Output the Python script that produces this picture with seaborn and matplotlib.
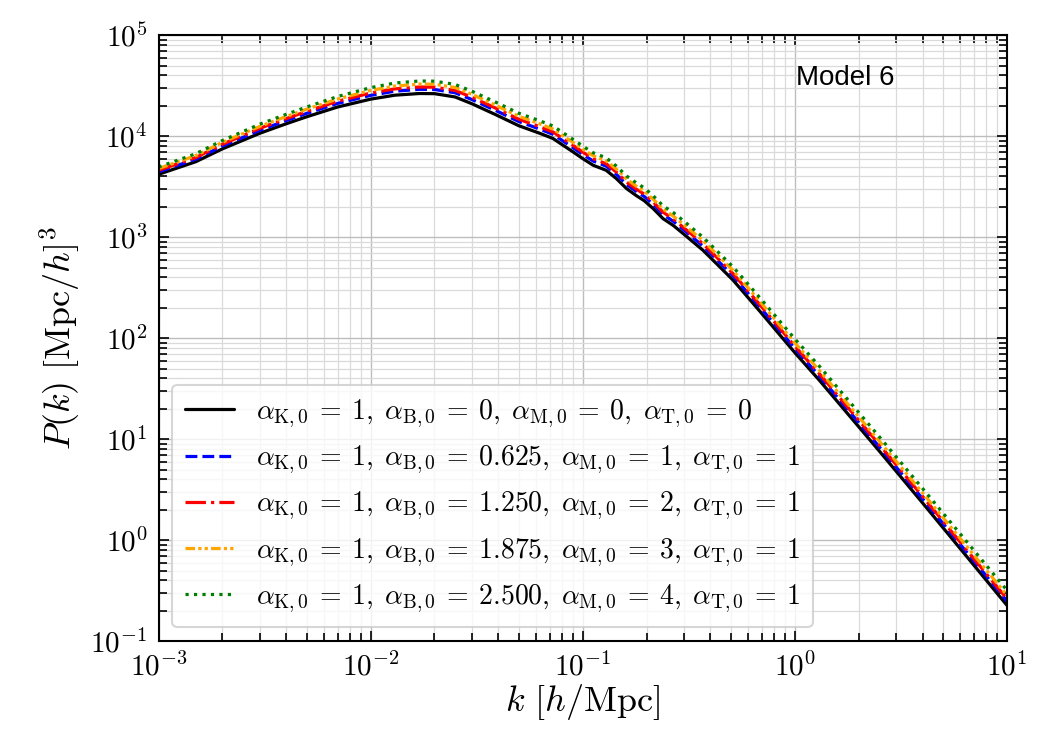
import numpy as np
import pandas as pd
import seaborn as sns
import matplotlib.pyplot as plt
from matplotlib.ticker import LogLocator, NullFormatter, FuncFormatter

sns.set_style("ticks")
plt.rcParams["mathtext.fontset"] = "cm"
plt.rcParams["font.family"] = ["DejaVu Serif"]
for key in ["text.color", "axes.labelcolor", "xtick.color", "ytick.color", "axes.edgecolor"]:
    plt.rcParams[key] = "black"

# wavenumbers k [h/Mpc]
k = [0.001, 0.0015, 0.002, 0.003, 0.004, 0.005, 0.007, 0.01, 0.013, 0.017,
     0.02, 0.025, 0.03, 0.039, 0.05, 0.0627, 0.0724, 0.0807, 0.09, 0.1,
     0.112, 0.129, 0.144, 0.161, 0.179, 0.195, 0.215, 0.239, 0.267, 0.297,
     0.369, 0.443, 0.512, 0.684, 1.0, 1.31, 2.52, 4.03, 10.0]

# P(k) [Mpc/h]^3 for each parameter set
p_ref = [4200, 5600, 7500, 10700, 13300, 15600, 19500, 23300, 25500, 26500,
         26400, 24500, 21000, 16300, 12700, 10700, 9500, 8150, 7000, 6010,
         5160, 4600, 3810, 3030, 2580, 2300, 1920, 1530, 1310, 1090,
         743, 508, 375, 185, 72, 38, 7.5, 2.3, 0.227]
p_b0625 = [4430, 5940, 7990, 11450, 14300, 16850, 21160, 25400, 27920, 29150,
           29040, 26950, 23100, 17930, 13970, 11770, 10450, 8970, 7700, 6610,
           5680, 5060, 4190, 3330, 2840, 2530, 2110, 1680, 1440, 1200,
           817, 559, 413, 204, 79.2, 41.8, 8.25, 2.53, 0.250]
p_b1250 = [4600, 6160, 8330, 11980, 14960, 17630, 22230, 26800, 29450, 30740,
           30620, 28420, 24360, 18910, 14730, 12410, 11020, 9450, 8120, 6970,
           5990, 5340, 4420, 3510, 2990, 2670, 2230, 1770, 1520, 1260,
           862, 589, 435, 215, 83.5, 44.1, 8.70, 2.67, 0.263]
p_b1875 = [4790, 6440, 8700, 12520, 15690, 18560, 23400, 28430, 31370, 32860,
           32740, 30380, 26040, 20210, 15750, 13270, 11780, 10110, 8680, 7450,
           6400, 5700, 4720, 3760, 3200, 2850, 2380, 1900, 1620, 1350,
           925, 633, 468, 231, 90.0, 47.5, 9.40, 2.89, 0.286]
p_b2500 = [4960, 6720, 9080, 13160, 16490, 19500, 24770, 30290, 33660, 35250,
           35110, 32590, 27930, 21680, 16890, 14230, 12640, 10840, 9310, 7990,
           6860, 6120, 5070, 4040, 3450, 3080, 2570, 2050, 1760, 1470,
           1000, 686, 507, 252, 98.6, 52.4, 10.4, 3.20, 0.320]

labels = [
    r"$\alpha_{\rm K,0}\:=\:1,\;\alpha_{\rm B,0}\:=\:0,\;\alpha_{\rm M,0}\:=\:0,\;\alpha_{\rm T,0}\:=\:0$",
    r"$\alpha_{\rm K,0}\:=\:1,\;\alpha_{\rm B,0}\:=\:0.625,\;\alpha_{\rm M,0}\:=\:1,\;\alpha_{\rm T,0}\:=\:1$",
    r"$\alpha_{\rm K,0}\:=\:1,\;\alpha_{\rm B,0}\:=\:1.250,\;\alpha_{\rm M,0}\:=\:2,\;\alpha_{\rm T,0}\:=\:1$",
    r"$\alpha_{\rm K,0}\:=\:1,\;\alpha_{\rm B,0}\:=\:1.875,\;\alpha_{\rm M,0}\:=\:3,\;\alpha_{\rm T,0}\:=\:1$",
    r"$\alpha_{\rm K,0}\:=\:1,\;\alpha_{\rm B,0}\:=\:2.500,\;\alpha_{\rm M,0}\:=\:4,\;\alpha_{\rm T,0}\:=\:1$",
]
series = [p_ref, p_b0625, p_b1250, p_b1875, p_b2500]
colors = ["black", "blue", "red", "orange", "green"]
styles = ["-", "--", "-.", (0, (3, 1, 1, 1, 1, 1)), ":"]

fig = plt.figure(figsize=(10.5, 7.5), dpi=100)
ax = fig.add_axes([0.151, 0.145, 0.808, 0.808])

for p, lab, c, ls in zip(series, labels, colors, styles):
    df = pd.DataFrame({"k": k, "P": p})
    sns.lineplot(data=df, x="k", y="P", ax=ax, color=c, linestyle=ls,
                 linewidth=2.3, label=lab)

ax.set_xscale("log")
ax.set_yscale("log")
ax.set_xlim(1e-3, 10)
ax.set_ylim(1e-1, 1e5)

pow10 = FuncFormatter(lambda v, _: r"$10^{%d}$" % int(round(np.log10(v))))
ax.xaxis.set_major_locator(LogLocator(base=10, numticks=20))
ax.xaxis.set_minor_locator(LogLocator(base=10, subs=np.arange(2, 10), numticks=50))
ax.yaxis.set_major_locator(LogLocator(base=10, numticks=20))
ax.yaxis.set_minor_locator(LogLocator(base=10, subs=np.arange(2, 10), numticks=50))
ax.xaxis.set_major_formatter(pow10)
ax.yaxis.set_major_formatter(pow10)
ax.xaxis.set_minor_formatter(NullFormatter())
ax.yaxis.set_minor_formatter(NullFormatter())

ax.tick_params(which="both", direction="in", top=True, right=True,
               labelsize=21, pad=8, width=1.2)
ax.tick_params(which="major", length=7)
ax.tick_params(which="minor", length=6)
for s in ax.spines.values():
    s.set_linewidth(1.5)

ax.grid(which="major", color="#bdbdbd", linewidth=1.0)
ax.grid(which="minor", color="#dadada", linewidth=0.9)

ax.set_xlabel(r"$k\ [h/\mathrm{Mpc}]$", fontsize=26, labelpad=0)
ax.set_ylabel(r"$P(k)\ [\mathrm{Mpc}/h]^3$", fontsize=26, labelpad=6)

ax.text(0.751, 0.929, "Model 6", transform=ax.transAxes, fontsize=20,
        family=["Liberation Sans", "DejaVu Sans"], ha="left", va="center")

leg = ax.legend(loc="lower left", fontsize=20, handlelength=1.75,
                handletextpad=0.8, labelspacing=0.5, borderpad=0.45,
                borderaxespad=0.5, framealpha=0.8, edgecolor="#cccccc",
                fancybox=True)
leg.get_frame().set_linewidth(1.5)

fig.savefig("out.png", dpi=100)
